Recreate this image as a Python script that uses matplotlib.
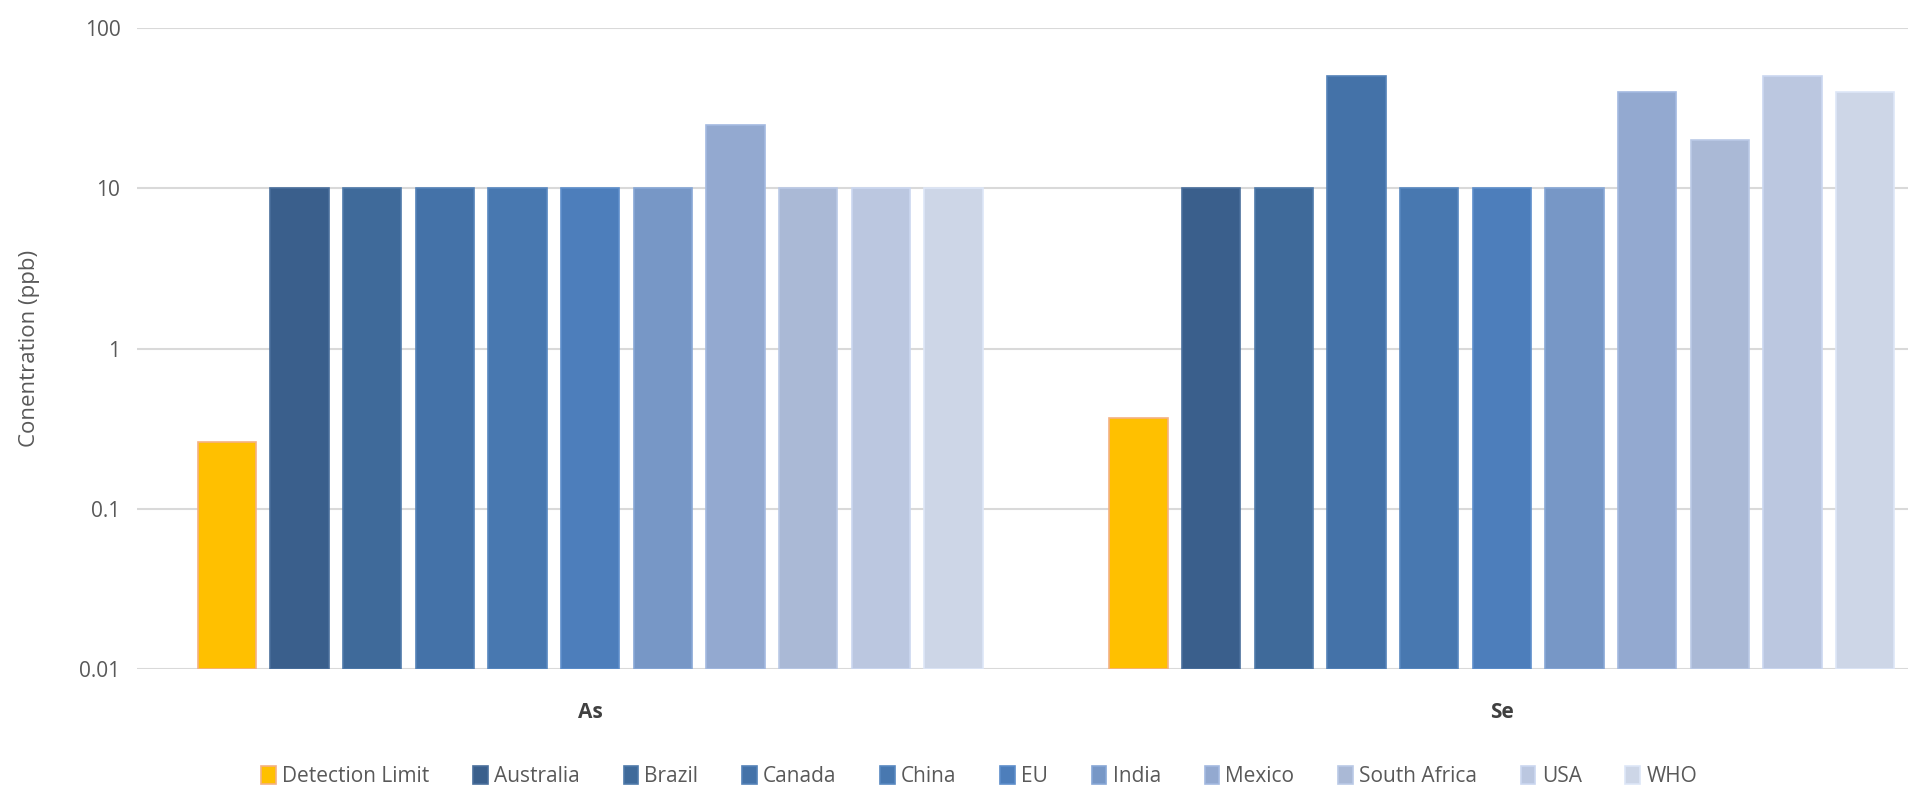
import matplotlib.pyplot as plt
import numpy as np
from matplotlib.ticker import FixedLocator, FixedFormatter

groups = ["As", "Se"]
series = ["Detection Limit", "Australia", "Brazil", "Canada", "China", "EU",
          "India", "Mexico", "South Africa", "USA", "WHO"]
as_vals = [0.26, 10, 10, 10, 10, 10, 10, 25, 10, 10, 10]
se_vals = [0.37, 10, 10, 50, 10, 10, 10, 40, 20, 50, 40]

colors = ["#FFC000", "#3A5F8C", "#3F6A9A", "#4472A8", "#4878B0", "#4D7EBB",
          "#7797C6", "#93A9D0", "#AAB9D6", "#BBC7E0", "#CDD6E7"]
edges = ["#F4B183", "#4A6F9C", "#4F7AAA", "#5482B8", "#5888C0", "#5D8ECB",
         "#87A7D6", "#A3B9E0", "#BAC9E6", "#CBD7F0", "#DDE6F7"]

plt.rcParams['font.family'] = ['Open Sans', 'DejaVu Sans']

fig = plt.figure(figsize=(19.2, 8.06), dpi=100)
ax = fig.add_axes([0.0714, 0.170, 0.9226, 0.795])

x = np.arange(len(groups))
pitch = 0.0797
width = 0.064
for i, name in enumerate(series):
    vals = [as_vals[i] - 0.01, se_vals[i] - 0.01]
    ax.bar(x + (i - 5) * pitch, vals, width, bottom=0.01, color=colors[i],
           edgecolor=edges[i], linewidth=1.2, label=name, zorder=3)

ax.set_yscale('log')
ax.set_ylim(0.01, 100)
ax.set_xlim(-0.497, 1.446)
ax.yaxis.set_major_locator(FixedLocator([0.01, 0.1, 1, 10, 100]))
ax.yaxis.set_major_formatter(FixedFormatter(["0.01", "0.1", "1", "10", "100"]))
ax.yaxis.set_minor_locator(FixedLocator([]))
ax.set_xticks(x)
ax.set_xticklabels(groups, fontweight='bold', fontsize=15, color="#404040")
ax.tick_params(axis='both', length=0, colors="#595959", labelsize=15)
ax.tick_params(axis='x', pad=24, colors="#404040")
ax.tick_params(axis='y', pad=12)
ax.grid(axis='y', color="#D9D9D9", linewidth=1.5, zorder=0)
for s in ax.spines.values():
    s.set_visible(False)
ax.set_ylabel("Conentration (ppb)", fontsize=16, color="#595959")
ax.yaxis.set_label_coords(-0.055, 0.5)

leg = fig.legend(loc='lower center', bbox_to_anchor=(0.51, 0.0), ncol=11,
                 frameon=False, fontsize=15, handlelength=0.7, handleheight=0.9,
                 handletextpad=0.3, columnspacing=2.1, labelcolor="#595959")

fig.savefig("out.png", dpi=100)
